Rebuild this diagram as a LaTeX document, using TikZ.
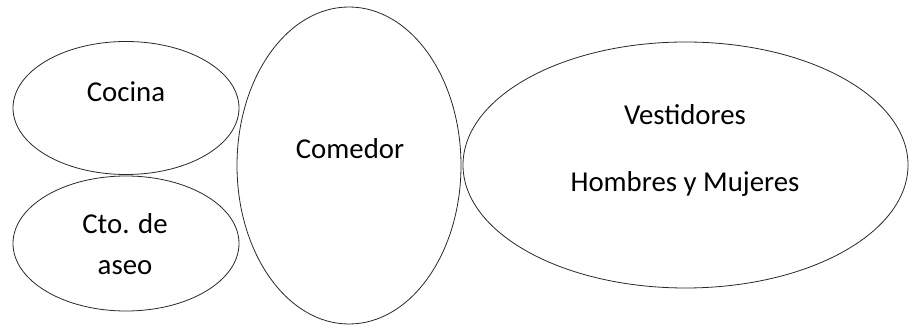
\documentclass[tikz,border=0pt]{standalone}
\usepackage{fontspec}
\setmainfont{Carlito}
\usepackage{tikz}
\usetikzlibrary{shapes.geometric}
\definecolor{RoomLine}{RGB}{40,40,40}
\tikzset{
  room/.style={ellipse,draw=RoomLine,line width=0.4pt,inner sep=0pt},
  roomtext/.style={anchor=base,align=center,inner sep=0pt,
    font=\fontsize{14.4}{20.5}\selectfont}
}

\begin{document}
\begin{tikzpicture}[x=0.5pt,y=-0.5pt]
\useasboundingbox (0,0) rectangle (909,325);
\node[room,minimum width=113pt,minimum height=66.5pt] (cocina) at (126,108) {};
\node[room,minimum width=113pt,minimum height=67.5pt] (aseo) at (126,243.5) {};
\node[room,minimum width=112pt,minimum height=158.5pt] (comedor) at (349,165.5) {};
\node[room,minimum width=222.5pt,minimum height=123pt] (vestidores) at (685.5,165) {};
\node[roomtext] (cocinatxt) at (126,101.5) {Cocina};
\node[roomtext] (asetxt) at (125,275) {Cto. de\\aseo};
\node[roomtext] (comedortxt) at (350,159) {Comedor};
\node[roomtext] (vesttxt) at (685,192) {Vestidores\\[13pt]Hombres y Mujeres};
\end{tikzpicture}
\end{document}
